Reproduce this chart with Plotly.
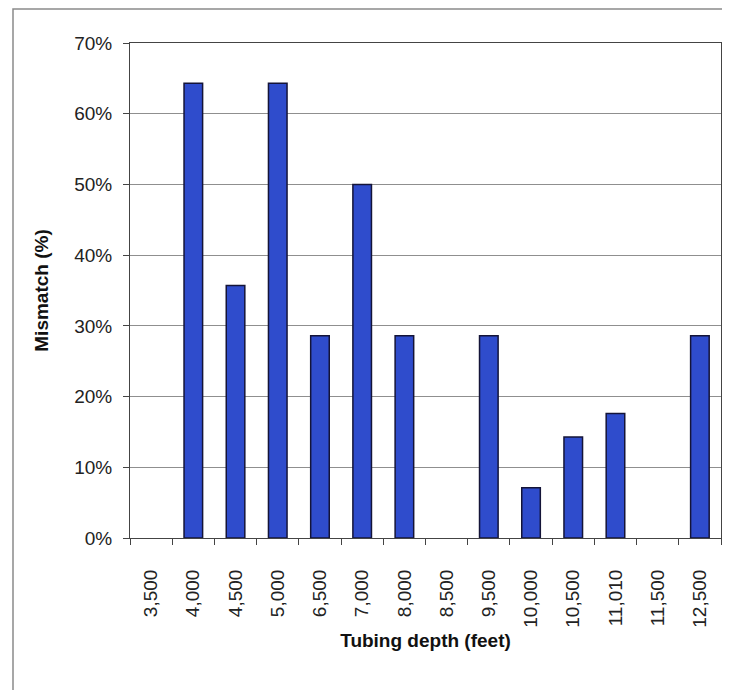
import plotly.graph_objects as go

# tubing depth categories and mismatch values (%)
depths = ["3,500", "4,000", "4,500", "5,000", "6,500", "7,000", "8,000",
          "8,500", "9,500", "10,000", "10,500", "11,010", "11,500", "12,500"]
mismatch = [0, 64.3, 35.7, 64.3, 28.6, 50.0, 28.6,
            0, 28.6, 7.1, 14.3, 17.6, 0, 28.6]
y_ticks = [0, 10, 20, 30, 40, 50, 60, 70]
y_labels = ["%d%%" % v for v in y_ticks]

# page body has an 8px margin: figure sits at (8, 8), so size it to fit the window
OFF = 8
W, H = 714, 682
ml, mr, mt, mb = 130 - OFF, W - (721 - OFF), 43 - OFF, H - (538 - OFF)

fig = go.Figure()
fig.add_trace(go.Bar(
    x=depths, y=mismatch,
    width=0.44,
    marker=dict(color="#2f4ccc",
                line=dict(color="#141438",
                          width=[1.5 if v > 0 else 0 for v in mismatch])),
    showlegend=False,
))

# outer chart border (page pixel positions -> paper coords)
pw, ph = W - ml - mr, H - mt - mb
def px(x):
    return (x - OFF - ml) / pw
def py(y):
    return 1 - (y - OFF - mt) / ph

fig.add_shape(type="rect", xref="paper", yref="paper",
              x0=px(13), x1=px(745), y0=py(712), y1=py(9),
              line=dict(color="#8a8a8a", width=1.5), layer="below")

fig.update_xaxes(
    type="category",
    tickangle=-90,
    ticks="outside", ticklen=6, tickcolor="#444", tickson="boundaries",
    ticklabelstandoff=23,
    showline=True, linecolor="#444", linewidth=1, mirror=True,
    tickfont=dict(family="Liberation Sans, Arial", size=19, color="#222"),
    title=dict(text="Tubing depth (feet)", standoff=6,
               font=dict(family="Liberation Sans, Arial", size=19, color="#111", weight="bold")),
    showgrid=False,
)
fig.update_yaxes(
    range=[0, 70], tickvals=y_ticks, ticktext=y_labels,
    ticks="outside", ticklen=6, tickcolor="#444",
    ticklabelstandoff=7,
    showline=True, linecolor="#444", linewidth=1, mirror=True,
    showgrid=True, gridcolor="#8f8f8f", gridwidth=1,
    tickfont=dict(family="Liberation Sans, Arial", size=19, color="#222"),
    title=dict(text="Mismatch (%)", standoff=20,
               font=dict(family="Liberation Sans, Arial", size=19, color="#111", weight="bold")),
    zeroline=False,
)
fig.update_layout(
    width=W, height=H,
    margin=dict(l=ml, r=mr, t=mt, b=mb, autoexpand=False),
    paper_bgcolor="white", plot_bgcolor="white",
    bargap=0.56,
)

fig.write_html("out.html")
